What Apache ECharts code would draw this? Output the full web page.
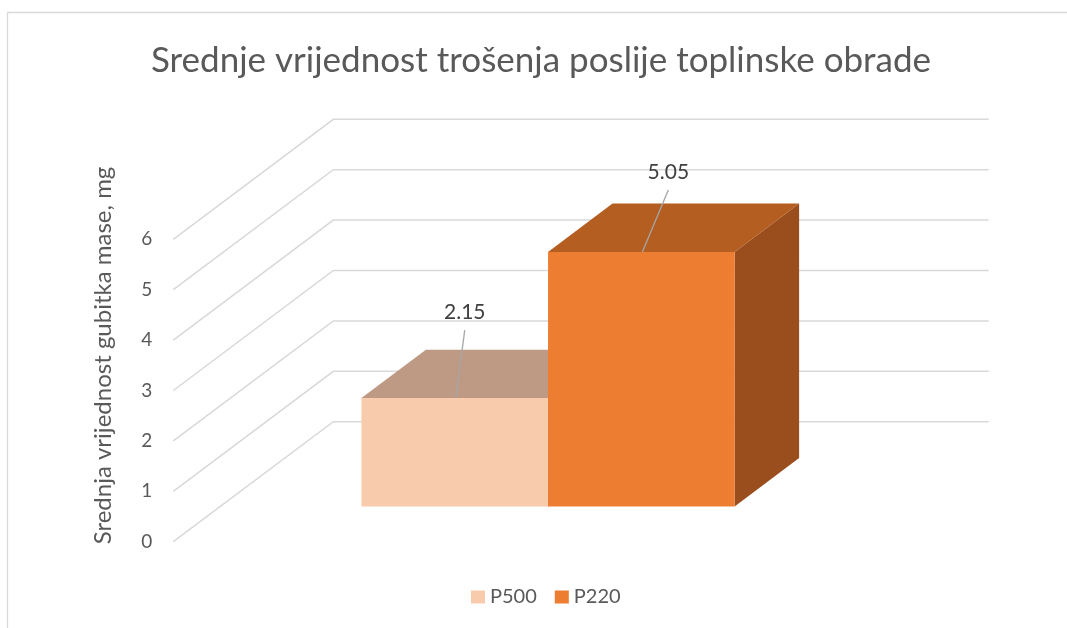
<!DOCTYPE html>
<html>
<head>
<meta charset="utf-8">
<script src="https://cdn.jsdelivr.net/npm/echarts@6/dist/echarts.min.js"></script>
<style>
html,body{margin:0;padding:0;background:#fff;}
#chart{width:1067px;height:628px;}
</style>
</head>
<body>
<div id="chart"></div>
<script>
// ---- data ----
const seriesNames = ['P500', 'P220'];
const seriesValues = [2.15, 5.05];
const yTicks = [0, 1, 2, 3, 4, 5, 6];
const chartTitle = 'Srednje vrijednost trošenja poslije toplinske obrade';
const yAxisTitle = 'Srednja vrijednost gubitka mase, mg';

// ---- styles ----
const frontColors = ['#F8CBAD', '#ED7D31'];
const topColors = ['#BE9984', '#B45E22'];
const sideColors = ['#A5826E', '#9A4E1D'];
const DEPTH = [160, -120];         // full floor depth vector (px)
const BAR_DEPTH = [0.294, 0.697];  // bar front/back position along depth
const BAR_FRAC = 0.2847;           // bar width as fraction of category band
const labelOffsets = [[10, -86], [27, -80]];
const FONT = 'Lato';

const chart = echarts.init(document.getElementById('chart'), null, {renderer: 'canvas'});

function wallRender(params, api) {
  const cs = params.coordSys;
  const y = api.coord([0, api.value(1)])[1];
  return {
    type: 'polyline',
    shape: {points: [[cs.x, y], [cs.x + DEPTH[0], y + DEPTH[1]], [cs.x + cs.width + DEPTH[0], y + DEPTH[1]]]},
    style: {stroke: '#D9D9D9', lineWidth: 1.5, fill: null},
    silent: true
  };
}

function makeBarRender(idx) {
  return function (params, api) {
    const cs = params.coordSys;
    const val = api.value(1);
    const base = api.coord([0, 0]);
    const top = api.coord([0, val]);
    const bw = cs.width * BAR_FRAC;
    const cx = base[0];
    const x0 = idx === 0 ? cx - bw : cx;
    const x1 = x0 + bw;
    const fx = DEPTH[0] * BAR_DEPTH[0], fy = DEPTH[1] * BAR_DEPTH[0];
    const dx = DEPTH[0] * (BAR_DEPTH[1] - BAR_DEPTH[0]), dy = DEPTH[1] * (BAR_DEPTH[1] - BAR_DEPTH[0]);
    const L = x0 + fx, R = x1 + fx, B = base[1] + fy, T = top[1] + fy;
    const mid = [(L + R) / 2, T];
    const off = labelOffsets[idx];
    return {
      type: 'group',
      children: [
        {type: 'polygon', shape: {points: [[R, T], [R + dx, T + dy], [R + dx, B + dy], [R, B]]}, style: {fill: sideColors[idx]}},
        {type: 'polygon', shape: {points: [[L, T], [L + dx, T + dy], [R + dx, T + dy], [R, T]]}, style: {fill: topColors[idx]}},
        {type: 'rect', shape: {x: L, y: T, width: R - L, height: B - T}, style: {fill: frontColors[idx]}},
        {type: 'line', shape: {x1: mid[0] + 1, y1: mid[1], x2: mid[0] + off[0], y2: mid[1] + off[1] + 18}, style: {stroke: '#A6A6A6', lineWidth: 1.3}},
        {type: 'text', style: {text: val.toFixed(2), x: mid[0] + off[0], y: mid[1] + off[1], align: 'center', verticalAlign: 'middle', fill: '#404040', font: '21px ' + FONT}}
      ]
    };
  };
}

const series = [{
  type: 'custom',
  name: 'walls',
  data: yTicks.map(v => [0, v]),
  renderItem: wallRender,
  clip: false,
  silent: true,
  z: 1
}];
seriesNames.forEach((n, i) => {
  series.push({
    type: 'custom',
    name: n,
    data: [[0, seriesValues[i]]],
    renderItem: makeBarRender(i),
    itemStyle: {color: frontColors[i]},
    clip: false,
    z: 3 + i
  });
});

chart.setOption({
  animation: false,
  backgroundColor: '#fff',
  textStyle: {fontFamily: FONT},
  title: {
    text: chartTitle,
    left: 541,
    textAlign: 'center',
    top: 43,
    padding: 0,
    textStyle: {fontFamily: FONT, fontSize: 35, fontWeight: 'normal', color: '#595959', lineHeight: 35}
  },
  legend: {
    data: seriesNames,
    left: 471,
    top: 587,
    padding: 0,
    itemWidth: 14,
    itemHeight: 13,
    itemGap: 18,
    icon: 'rect',
    textStyle: {fontFamily: FONT, fontSize: 20, color: '#595959'}
  },
  grid: {left: 173.3, top: 239.3, width: 655.4, height: 302.4, containLabel: false},
  xAxis: {type: 'category', data: [''], show: false},
  yAxis: {
    type: 'value', min: 0, max: 6, interval: 1,
    axisLine: {show: false}, axisTick: {show: false}, splitLine: {show: false},
    axisLabel: {fontFamily: FONT, fontSize: 19, color: '#595959', margin: 21},
    name: yAxisTitle,
    nameLocation: 'middle',
    nameGap: 58,
    nameTextStyle: {fontFamily: FONT, fontSize: 24, color: '#595959', padding: [0, 0, 0, 70]}
  },
  graphic: [{
    type: 'rect',
    shape: {x: 7.5, y: 12.5, width: 1080, height: 640},
    style: {fill: null, stroke: '#D9D9D9', lineWidth: 1.3},
    silent: true,
    z: 0
  }],
  series: series
});
</script>
</body>
</html>
